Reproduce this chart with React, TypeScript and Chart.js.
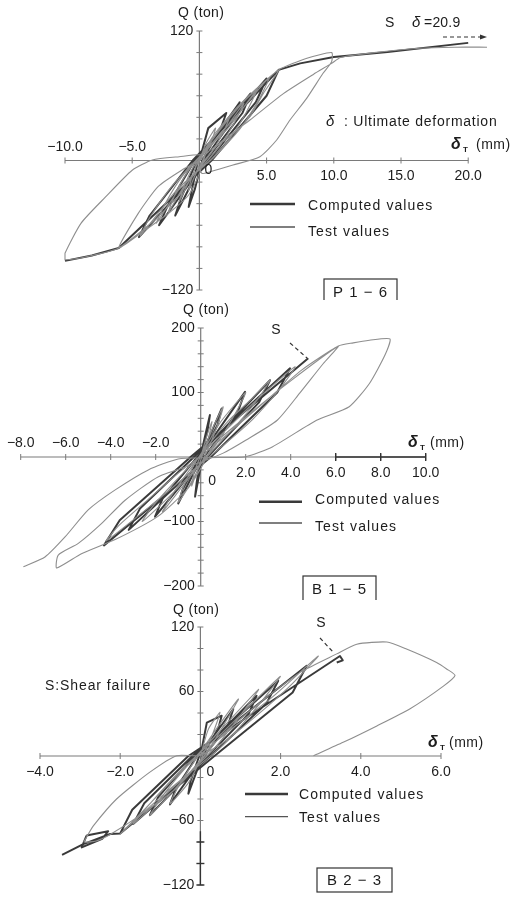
import React, { useEffect, useRef } from "react";
import { Chart, registerables } from "chart.js";

Chart.register(...registerables);

type Pair = [number, number] | null;

// ---------------- Panel P1-6 data ----------------
const p1Computed: Pair[] = [
  [0, 0], [0.66, 30], [2.0, 44], [1.6, 30], [0.2, 0], [-0.35, -27], [-0.8, -43], [-0.6, -30], [-0.1, 0],
  [3.0, 54], [2.5, 38], [0.3, 0], [-1.8, -51], [-1.4, -36], [-0.2, 0], [3.8, 62], [3.2, 44], [0.5, 0],
  [-3.0, -60], [-2.4, -43], [-0.35, 0], [5.0, 76], [4.2, 54], [0.7, 0], [-4.5, -71], [-3.7, -51], [-0.5, 0],
  [5.9, 84], [5.0, 60], [0.9, 0], [-6.0, -81], [-8.0, -88], [-10.0, -93],
  null,
  [5.9, 84], [7.5, 90], [10.0, 96], [14.0, 100.5], [20.0, 109],
];
const p1Test: Pair[] = [
  [0, 0], [0.5, 16], [1.2, 30], [0.9, 18], [0.4, 4], [0, -6], [-0.4, -16], [-0.8, -28], [-0.6, -17], [-0.2, -4],
  [0.3, 8], [1.1, 24], [2.3, 42], [1.8, 27], [1.0, 9], [0.2, -4], [-0.7, -18], [-1.5, -38], [-1.1, -23], [-0.5, -7],
  [0.3, 6], [1.6, 24], [3.3, 53], [2.6, 35], [1.6, 15], [0.4, -3], [-1.0, -21], [-2.3, -48], [-1.8, -31], [-0.9, -11],
  [0.3, 7], [2.2, 31], [4.3, 66], [3.5, 45], [2.3, 21], [0.8, 0], [-1.3, -23], [-3.2, -58], [-2.5, -39], [-1.3, -15],
  [0.2, 6], [2.6, 39], [5.2, 77], [4.4, 56], [3.0, 29], [1.0, 2], [-1.6, -26], [-4.4, -70], [-3.6, -51], [-2.0, -23],
  [0.1, 5], [1.5, 28], [3.5, 57], [5.9, 84], [4.75, 62], [3.76, 40.6], [2.28, 22], [0.8, 9.7], [0, 0],
  [-1.32, -9], [-3.06, -24], [-4.55, -49], [-6.0, -81], [-4.2, -66], [-2.2, -48], [-0.8, -32], [0, -12],
  [0.7, 14], [2.5, 45], [4.2, 66], [5.9, 84], [8.0, 94.7], [9.84, 100], [9.84, 91.6], [9.2, 80.8], [7.98, 57.6],
  [6.74, 37.5], [5.75, 19], [4.5, 3.5], [2.5, -4.2], [0.79, -10.4], [0.2, -12], [-0.1, -4], [0.2, 5],
  [-1.5, 3.5], [-3.5, 0.5], [-5.0, -9], [-7.0, -34], [-8.8, -58], [-10.0, -86], [-10.0, -92], [-8.0, -88],
  [-6.0, -81], [-3.5, -57], [-1.5, -32], [0, -6], [1.5, 16], [3.76, 37.5], [6.25, 62], [8.5, 80], [9.84, 90],
  [10.5, 95.5], [13.0, 100], [16.4, 104], [19.0, 105], [21.4, 105],
];
const p1XTickMarks = [-10, -5, 5, 10, 15, 20];
const p1XLabelValues = [-10, -5, 5, 10, 15, 20];
const p1XLabelTexts = ["\u221210.0", "\u22125.0", "5.0", "10.0", "15.0", "20.0"];
const p1YTickMarks = [-120, -100, -80, -60, -40, -20, 20, 40, 60, 80, 100, 120];
const p1YLabelValues = [120, -120];
const p1YLabelTexts = ["120", "\u2212120"];

// ---------------- Panel B1-5 data ----------------
const p2Computed: Pair[] = [
  [0, 0], [0.12, 21], [0.41, 65], [0.3, 40], [0, 0], [-0.03, -20], [-0.25, -61.5], [-0.18, -40], [0, 0],
  [0.93, 75], [0.75, 50], [0.05, 0], [-1.0, -72], [-0.8, -50], [-0.05, 0], [1.97, 101], [1.65, 70], [0.15, 0],
  [-2.03, -92.5], [-1.7, -65], [-0.15, 0], [3.08, 119], [2.6, 85], [0.3, 0], [-3.2, -113], [-2.7, -80],
  [-0.3, 0], [3.97, 137.5], [3.4, 100], [0.45, 0], [-4.3, -137], [-3.6, -98], [-0.45, 0], [4.78, 153],
];
const p2Test: Pair[] = [
  [0, 0], [0.25, 30], [0.5, 55], [0.35, 30], [0.1, 5], [-0.15, -20], [-0.4, -45], [-0.3, -25], [-0.05, -2],
  [0.3, 25], [0.6, 50], [1.0, 78], [0.7, 45], [0.3, 10], [-0.2, -25], [-0.6, -50], [-1.0, -70], [-0.75, -45],
  [-0.3, -12], [0.2, 15], [0.9, 55], [2.0, 100], [1.5, 65], [0.8, 25], [0, -10], [-0.8, -45], [-1.7, -85],
  [-1.3, -60], [-0.6, -25], [0.1, 8], [1.2, 55], [2.2, 88], [3.1, 120], [2.5, 88], [1.6, 50], [0.4, 5],
  [-0.8, -40], [-1.8, -75], [-2.6, -100], [-2.1, -75], [-1.2, -40], [0, 3], [1.5, 55], [3.0, 105], [4.2, 140],
  [3.5, 105], [2.3, 58], [1.0, 18], [-0.6, -28], [-2.2, -75], [-4.2, -130], [-3.6, -105], [-2.4, -68],
  [-1.0, -25], [0.5, 15], [2.5, 75], [4.5, 135], [6.12, 172], [5.45, 145], [4.4, 99], [3.4, 57], [2.0, 26],
  [1.0, 6], [0, -8], [-1.88, -30.5], [-3.36, -67], [-4.4, -103], [-5.44, -134], [-6.33, -152], [-6.4, -172],
  [-5.3, -150], [-3.8, -128], [-1.9, -92], [-0.6, -50], [0, -18], [0.6, 20], [2.0, 62], [4.0, 118],
  [6.12, 172], [6.78, 177], [7.5, 181], [8.41, 183], [8.19, 158], [7.5, 114], [6.6, 78], [5.15, 57],
  [3.2, 16], [2.0, 0.5], [0.3, -1], [-1.0, -3], [-2.33, -20], [-3.8, -51], [-5.0, -82], [-6.03, -124],
  [-6.92, -155], [-7.88, -170],
];
const p2XTickMarks = [-8, -6, -4, -2, 2, 4, 6, 8, 10];
const p2XLabelValues = [-8, -6, -4, -2, 2, 4, 6, 8, 10];
const p2XLabelTexts = ["\u22128.0", "\u22126.0", "\u22124.0", "\u22122.0", "2.0", "4.0", "6.0", "8.0", "10.0"];
const p2YTickMarks = [-200, -180, -160, -140, -120, -100, -80, -60, -40, -20, 20, 40, 60, 80, 100, 120, 140, 160, 180, 200];
const p2YLabelValues = [200, 100, -100, -200];
const p2YLabelTexts = ["200", "100", "\u2212100", "\u2212200"];

// ---------------- Panel B2-3 data ----------------
const p3Computed: Pair[] = [
  [0, 0], [0.16, 31], [0.53, 37.5], [0.45, 26], [0.05, 0], [-0.1, -15], [-0.3, -35], [-0.25, -24], [-0.03, 0],
  [0.82, 43.7], [0.7, 30], [0.1, 0], [-0.76, -45], [-0.62, -31], [-0.08, 0], [1.4, 56], [1.2, 39], [0.18, 0],
  [-1.26, -55], [-1.05, -38], [-0.15, 0], [1.94, 70], [1.65, 49], [0.25, 0], [-1.67, -63], [-1.4, -44],
  [-0.2, 0], [2.65, 84], [2.3, 59], [0.35, 0], [-2.0, -72], [-1.7, -50], [-0.3, 0], [3.48, 93], [3.55, 89],
  [3.4, 87],
  null,
  [-2.0, -72], [-2.25, -72.6], [-2.92, -82], [-3.45, -92],
  null,
  [-2.84, -74], [-2.3, -70], [-2.45, -77], [-2.96, -85], [-2.84, -74],
];
const p3Test: Pair[] = [
  [0, 0], [0.2, 25], [0.49, 40.6], [0.3, 20], [0.05, 0], [-0.3, -25], [-0.76, -44.6], [-0.5, -25], [-0.15, -5],
  [0.3, 20], [0.95, 53], [0.6, 30], [0.15, 3], [-0.5, -25], [-1.26, -55.5], [-0.9, -35], [-0.3, -8], [0.4, 20],
  [1.45, 62], [1.0, 38], [0.3, 5], [-0.7, -30], [-1.67, -63], [-1.2, -42], [-0.4, -10], [0.5, 20], [1.99, 74],
  [1.4, 45], [0.5, 8], [-0.9, -35], [-2.0, -72.6], [-1.4, -50], [-0.5, -15], [0.6, 20], [1.8, 55], [2.94, 93],
  [2.23, 65], [1.4, 37.5], [0.57, 12.7], [0, 0.5], [-0.59, 0.3], [-1.26, -15], [-2.09, -40], [-2.67, -65],
  [-2.84, -75.6], [-2.9, -80], [-2.6, -79], [-2.25, -73], [-1.5, -55], [-0.6, -30], [0, -5], [0.5, 18],
  [1.5, 50], [2.5, 78], [3.4, 95], [3.9, 104], [4.65, 106], [5.14, 99.5], [5.89, 87], [6.14, 81], [6.35, 75],
  [6.06, 65], [5.23, 44], [4.4, 28], [3.56, 12.7], [2.82, 0.3],
];
const p3XTickMarks = [-4, -2, 2, 4, 6];
const p3XLabelValues = [-4, -2, 2, 4, 6];
const p3XLabelTexts = ["\u22124.0", "\u22122.0", "2.0", "4.0", "6.0"];
const p3YTickMarks = [-120, -100, -80, -60, -40, -20, 20, 40, 60, 80, 100, 120];
const p3YLabelValues = [120, 60, -60, -120];
const p3YLabelTexts = ["120", "60", "\u221260", "\u2212120"];

const legendLabels = ["Computed values", "Test values"];

// ---------------- styles ----------------
const FONT = '"Liberation Sans", Arial, Helvetica, sans-serif';
const TEXT_COLOR = "#1c1c1c";
const AXIS_COLOR = "#7a7a7a";
const COMPUTED_COLOR = "#3a3a3a";
const TEST_COLOR = "#8e8e8e";

type Ctx = CanvasRenderingContext2D;

function txt(ctx: Ctx, s: string, x: number, y: number, o: { size?: number; align?: CanvasTextAlign; spacing?: number; italic?: boolean; bold?: boolean; color?: string } = {}) {
  ctx.save();
  const size = o.size ?? 14;
  ctx.font = `${o.italic ? "italic " : ""}${o.bold ? "bold " : ""}${size}px ${FONT}`;
  (ctx as any).letterSpacing = `${o.spacing ?? 0}px`;
  ctx.textAlign = o.align ?? "left";
  ctx.textBaseline = "middle";
  ctx.fillStyle = o.color ?? TEXT_COLOR;
  ctx.fillText(s, x, y);
  ctx.restore();
}

function seg(ctx: Ctx, x1: number, y1: number, x2: number, y2: number) {
  ctx.beginPath();
  ctx.moveTo(x1, y1);
  ctx.lineTo(x2, y2);
  ctx.stroke();
}

function deltaT(ctx: Ctx, x: number, y: number, mmGap: number) {
  txt(ctx, "\u03b4", x, y, { size: 16, italic: true, bold: true });
  txt(ctx, "T", x + 12, y + 5, { size: 8, bold: true });
  txt(ctx, "(mm)", x + mmGap, y, { size: 14, spacing: 0.5 });
}

function legend(ctx: Ctx, lx: number, lw: number, y1: number, y2: number, tx: number, ty1: number, ty2: number) {
  ctx.save();
  ctx.strokeStyle = COMPUTED_COLOR;
  ctx.lineWidth = 2.4;
  seg(ctx, lx, y1, lx + lw, y1);
  ctx.strokeStyle = "#555";
  ctx.lineWidth = 1.3;
  seg(ctx, lx, y2, lx + lw, y2);
  ctx.restore();
  txt(ctx, legendLabels[0], tx, ty1, { size: 14, spacing: 1.1 });
  txt(ctx, legendLabels[1], tx, ty2, { size: 14, spacing: 1.1 });
}

function box(ctx: Ctx, x: number, y: number, w: number, h: number, label: string) {
  ctx.save();
  ctx.strokeStyle = "#333";
  ctx.lineWidth = 1.2;
  ctx.strokeRect(x, y, w, h);
  ctx.restore();
  txt(ctx, label, x + w / 2, y + h / 2 + 1, { size: 15, align: "center", spacing: 1 });
}

function dashed(ctx: Ctx, x1: number, y1: number, x2: number, y2: number) {
  ctx.save();
  ctx.strokeStyle = "#333";
  ctx.lineWidth = 1.2;
  ctx.setLineDash([4, 3]);
  seg(ctx, x1, y1, x2, y2);
  ctx.restore();
}

interface PanelCfg {
  height: number;
  top: number;
  xMin: number; xMax: number; yMin: number; yMax: number;
  padding: { left: number; right: number; top: number; bottom: number };
  computed: Pair[];
  test: Pair[];
  xTicks: number[]; yTicks: number[];
  xLabelValues: number[]; xLabelTexts: string[];
  yLabelValues: number[]; yLabelTexts: string[];
  negAbove: boolean;
  labelAbove: number; labelBelow: number;
  zero: [number, number];
  extra: (ctx: Ctx, sx: (v: number) => number, sy: (v: number) => number) => void;
  axisDark?: (ctx: Ctx, sx: (v: number) => number, sy: (v: number) => number) => void;
}

function makeDecor(cfg: PanelCfg) {
  return {
    id: "decor",
    beforeDatasetsDraw(chart: any) {
      const ctx: Ctx = chart.ctx;
      const sx = (v: number) => chart.scales.x.getPixelForValue(v);
      const sy = (v: number) => chart.scales.y.getPixelForValue(v);
      const x0 = sx(0), y0 = sy(0);
      ctx.save();
      ctx.strokeStyle = AXIS_COLOR;
      ctx.lineWidth = 1.2;
      seg(ctx, sx(cfg.xMin), y0, sx(cfg.xMax), y0);
      seg(ctx, x0, sy(cfg.yMax), x0, sy(cfg.yMin));
      ctx.lineWidth = 1;
      for (const v of cfg.xTicks) seg(ctx, sx(v), y0 - 3, sx(v), y0 + 3);
      for (const v of cfg.yTicks) seg(ctx, x0 - 3, sy(v), x0 + 3, sy(v));
      ctx.restore();
      if (cfg.axisDark) cfg.axisDark(ctx, sx, sy);
    },
    afterDatasetsDraw(chart: any) {
      const ctx: Ctx = chart.ctx;
      const sx = (v: number) => chart.scales.x.getPixelForValue(v);
      const sy = (v: number) => chart.scales.y.getPixelForValue(v);
      const x0 = sx(0), y0 = sy(0);
      cfg.xLabelValues.forEach((v, i) => {
        const above = cfg.negAbove && v < 0;
        txt(ctx, cfg.xLabelTexts[i], sx(v), y0 + (above ? cfg.labelAbove : cfg.labelBelow), { size: 14, align: "center" });
      });
      txt(ctx, "0", x0 + cfg.zero[0], y0 + cfg.zero[1], { size: 14, align: "center" });
      cfg.yLabelValues.forEach((v, i) => {
        txt(ctx, cfg.yLabelTexts[i], x0 - 6, sy(v), { size: 14, align: "right" });
      });
      cfg.extra(ctx, sx, sy);
    },
  };
}

const toPts = (arr: Pair[]) => arr.map((p) => (p ? { x: p[0], y: p[1] } : { x: NaN, y: NaN }));

const panels: PanelCfg[] = [
  {
    height: 300, top: 0,
    xMin: -10, xMax: 20, yMin: -120, yMax: 120,
    padding: { left: 65, right: 43.8, top: 31, bottom: 10 },
    computed: p1Computed, test: p1Test,
    xTicks: p1XTickMarks, yTicks: p1YTickMarks,
    xLabelValues: p1XLabelValues, xLabelTexts: p1XLabelTexts,
    yLabelValues: p1YLabelValues, yLabelTexts: p1YLabelTexts,
    negAbove: true, labelAbove: -13.5, labelBelow: 15.5, zero: [9, 9.5],
    extra: (ctx) => {
      txt(ctx, "Q (ton)", 178, 13, { size: 14, spacing: 0.4 });
      txt(ctx, "S", 385, 23, { size: 14 });
      txt(ctx, "\u03b4", 412, 23, { size: 15, italic: true });
      txt(ctx, "=20.9", 424, 23, { size: 14, spacing: 0.2 });
      dashed(ctx, 443, 37, 481, 37);
      ctx.save();
      ctx.fillStyle = "#333";
      ctx.beginPath();
      ctx.moveTo(487, 37); ctx.lineTo(480, 34.5); ctx.lineTo(480, 39.5); ctx.closePath(); ctx.fill();
      ctx.restore();
      txt(ctx, "\u03b4", 326, 122, { size: 15, italic: true });
      txt(ctx, ": Ultimate deformation", 344, 122, { size: 14, spacing: 0.75 });
      deltaT(ctx, 451, 145, 25);
      legend(ctx, 250, 45, 204, 227, 308, 206, 232);
      box(ctx, 324, 279, 73, 26, "P 1 \u2212 6");
    },
  },
  {
    height: 300, top: 300,
    xMin: -8, xMax: 10, yMin: -200, yMax: 200,
    padding: { left: 20.7, right: 86.3, top: 28, bottom: 14 },
    computed: p2Computed, test: p2Test,
    xTicks: p2XTickMarks, yTicks: p2YTickMarks,
    xLabelValues: p2XLabelValues, xLabelTexts: p2XLabelTexts,
    yLabelValues: p2YLabelValues, yLabelTexts: p2YLabelTexts,
    negAbove: true, labelAbove: -14.3, labelBelow: 16, zero: [11.5, 24],
    axisDark: (ctx, sx, sy) => {
      ctx.save();
      ctx.strokeStyle = "#333";
      ctx.lineWidth = 1.4;
      seg(ctx, sx(6), sy(0), sx(10), sy(0));
      for (const v of [6, 8, 10]) seg(ctx, sx(v), sy(0) - 4, sx(v), sy(0) + 4);
      ctx.restore();
    },
    extra: (ctx) => {
      txt(ctx, "Q (ton)", 183, 10, { size: 14, spacing: 0.4 });
      txt(ctx, "S", 276, 30, { size: 14, align: "center" });
      dashed(ctx, 290, 43, 307, 58);
      deltaT(ctx, 408, 143, 22);
      legend(ctx, 259, 43, 201.7, 223, 315, 200, 227);
      box(ctx, 303, 276, 73, 25, "B 1 \u2212 5");
    },
  },
  {
    height: 298, top: 600,
    xMin: -4, xMax: 6, yMin: -120, yMax: 120,
    padding: { left: 40, right: 71, top: 27, bottom: 13 },
    computed: p3Computed, test: p3Test,
    xTicks: p3XTickMarks, yTicks: p3YTickMarks,
    xLabelValues: p3XLabelValues, xLabelTexts: p3XLabelTexts,
    yLabelValues: p3YLabelValues, yLabelTexts: p3YLabelTexts,
    negAbove: false, labelAbove: 15.7, labelBelow: 15.7, zero: [10, 15.7],
    axisDark: (ctx, sx, sy) => {
      ctx.save();
      ctx.strokeStyle = "#333";
      ctx.lineWidth = 1.4;
      seg(ctx, sx(0), sy(-70), sx(0), sy(-120));
      for (const v of [-80, -100, -120]) seg(ctx, sx(0) - 4, sy(v), sx(0) + 4, sy(v));
      ctx.restore();
    },
    extra: (ctx) => {
      txt(ctx, "Q (ton)", 173, 10, { size: 14, spacing: 0.4 });
      txt(ctx, "S", 321, 23, { size: 14, align: "center" });
      dashed(ctx, 320, 38, 333, 52);
      txt(ctx, "S:Shear failure", 45, 86, { size: 14, spacing: 0.9 });
      deltaT(ctx, 428, 143, 21);
      legend(ctx, 245, 43, 194, 216.7, 299, 195, 218);
      box(ctx, 317, 268, 75, 24, "B 2 \u2212 3");
    },
  },
];

function Panel({ cfg }: { cfg: PanelCfg }) {
  const ref = useRef<HTMLCanvasElement>(null);
  useEffect(() => {
    const chart = new Chart(ref.current!, {
      type: "scatter",
      data: {
        datasets: [
          {
            data: toPts(cfg.test) as any,
            showLine: true,
            borderColor: TEST_COLOR,
            borderWidth: 1.1,
            pointRadius: 0,
            tension: 0.2,
            borderJoinStyle: "round",
            clip: false as any,
            spanGaps: false,
          },
          {
            data: toPts(cfg.computed) as any,
            showLine: true,
            borderColor: COMPUTED_COLOR,
            borderWidth: 2,
            pointRadius: 0,
            tension: 0,
            borderJoinStyle: "round",
            clip: false as any,
            spanGaps: false,
          },
        ],
      },
      options: {
        responsive: false,
        maintainAspectRatio: false,
        animation: false,
        events: [],
        layout: { padding: cfg.padding },
        scales: {
          x: { type: "linear", min: cfg.xMin, max: cfg.xMax, display: false },
          y: { type: "linear", min: cfg.yMin, max: cfg.yMax, display: false },
        },
        plugins: { legend: { display: false }, tooltip: { enabled: false }, title: { display: false } },
      },
      plugins: [makeDecor(cfg)],
    });
    return () => chart.destroy();
  }, [cfg]);
  return (
    <canvas
      ref={ref}
      width={512}
      height={cfg.height}
      style={{ position: "absolute", left: 0, top: cfg.top, width: 512, height: cfg.height, display: "block" }}
    />
  );
}

export default function App() {
  return (
    <div style={{ position: "absolute", left: 0, top: 0, width: 512, height: 898, background: "#fff", overflow: "hidden" }}>
      {panels.map((p, i) => (
        <Panel key={i} cfg={p} />
      ))}
    </div>
  );
}
